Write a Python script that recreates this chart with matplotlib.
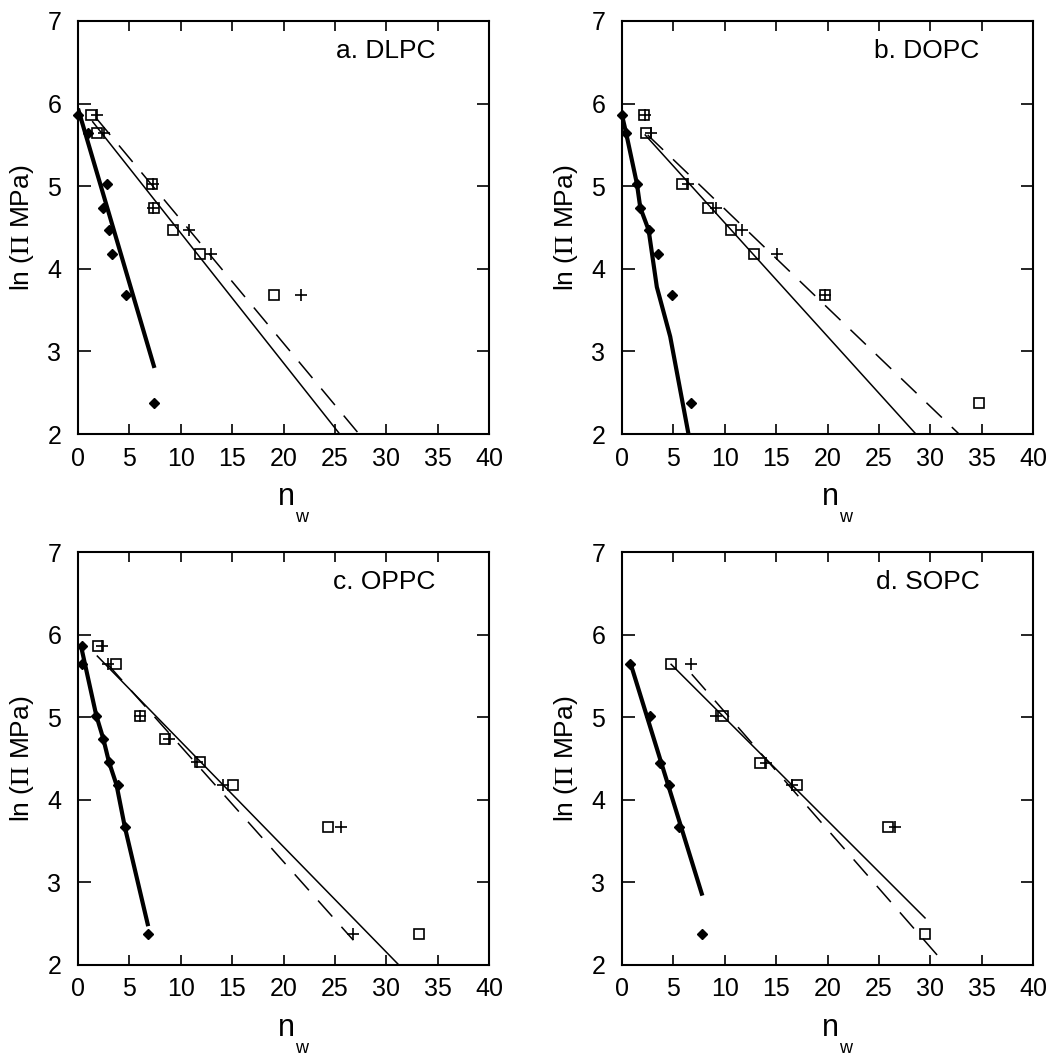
import matplotlib
matplotlib.use("Agg")
import matplotlib.pyplot as plt

plt.rcParams['font.family'] = ['Liberation Sans', 'DejaVu Sans']
plt.rcParams['mathtext.fontset'] = 'stix'

# ---------------- data ----------------
titles = ["a. DLPC", "b. DOPC", "c. OPPC", "d. SOPC"]

# filled diamonds
dia_x_a = [0.0, 0.97, 2.85, 2.46, 3.0, 3.27, 4.72, 7.38]
dia_y_a = [5.86, 5.65, 5.03, 4.74, 4.47, 4.18, 3.68, 2.38]
dia_x_b = [0.0, 0.39, 1.45, 1.78, 2.59, 3.49, 4.85, 6.72]
dia_y_b = [5.86, 5.65, 5.03, 4.74, 4.47, 4.18, 3.68, 2.38]
dia_x_c = [0.36, 0.36, 1.78, 2.46, 3.01, 3.88, 4.56, 6.83]
dia_y_c = [5.86, 5.64, 5.02, 4.74, 4.46, 4.18, 3.67, 2.37]
dia_x_d = [0.81, 2.75, 3.65, 4.59, 5.5, 7.82]
dia_y_d = [5.64, 5.02, 4.45, 4.18, 3.67, 2.37]

# open squares
sq_x_a = [1.29, 1.88, 7.2, 7.38, 9.26, 11.84, 19.03]
sq_y_a = [5.86, 5.65, 5.03, 4.74, 4.47, 4.18, 3.68]
sq_x_b = [2.17, 2.36, 5.88, 8.41, 10.6, 12.87, 19.79, 34.76]
sq_y_b = [5.86, 5.65, 5.03, 4.74, 4.47, 4.18, 3.68, 2.38]
sq_x_c = [1.97, 3.66, 6.02, 8.45, 11.91, 15.08, 24.37, 33.2]
sq_y_c = [5.86, 5.64, 5.02, 4.74, 4.46, 4.18, 3.67, 2.37]
sq_x_d = [4.78, 9.86, 13.45, 17.04, 25.86, 29.49]
sq_y_d = [5.64, 5.02, 4.45, 4.18, 3.67, 2.37]

# plus signs
pl_x_a = [1.88, 2.52, 7.3, 7.3, 10.78, 12.95, 21.7]
pl_y_a = [5.86, 5.65, 5.03, 4.74, 4.47, 4.18, 3.68]
pl_x_b = [2.26, 2.81, 6.47, 9.15, 11.7, 15.13, 19.79]
pl_y_b = [5.86, 5.65, 5.03, 4.74, 4.47, 4.18, 3.68]
pl_x_c = [2.36, 2.91, 6.08, 8.83, 11.59, 14.11, 25.57, 26.8]
pl_y_c = [5.86, 5.64, 5.02, 4.74, 4.46, 4.18, 3.67, 2.37]
pl_x_d = [6.72, 9.15, 14.0, 16.5, 26.58]
pl_y_d = [5.64, 5.02, 4.45, 4.18, 3.67]

# thick fitted curves (diamonds)
thick_x_a = [0.0, 7.44]
thick_y_a = [5.94, 2.80]
thick_x_b = [0.0, 0.39, 1.45, 1.78, 2.59, 3.39, 4.69, 6.47]
thick_y_b = [5.86, 5.65, 5.03, 4.74, 4.47, 3.78, 3.18, 2.0]
thick_x_c = [0.26, 1.78, 2.46, 3.01, 3.75, 4.56, 6.83]
thick_y_c = [5.88, 5.02, 4.74, 4.46, 4.18, 3.67, 2.47]
thick_x_d = [0.81, 7.82]
thick_y_d = [5.66, 2.84]

# thin solid fitted lines (squares)
solid_x_a = [1.43, 25.47]
solid_y_a = [5.78, 2.0]
solid_x_b = [2.26, 28.6]
solid_y_b = [5.62, 2.0]
solid_x_c = [1.88, 31.23]
solid_y_c = [5.74, 2.0]
solid_x_d = [4.78, 29.49]
solid_y_d = [5.64, 2.57]

# dashed fitted lines (plus signs)
dash_x_a = [1.8, 27.35]
dash_y_a = [5.82, 2.0]
dash_x_b = [2.5, 32.8]
dash_y_b = [5.62, 2.0]
dash_x_c = [2.9, 26.8]
dash_y_c = [5.64, 2.3]
dash_x_d = [6.79, 31.52]
dash_y_d = [5.52, 2.0]

x_ticks = [0, 5, 10, 15, 20, 25, 30, 35, 40]
y_ticks = [2, 3, 4, 5, 6, 7]

panels = [
    (dia_x_a, dia_y_a, sq_x_a, sq_y_a, pl_x_a, pl_y_a, thick_x_a, thick_y_a, solid_x_a, solid_y_a, dash_x_a, dash_y_a),
    (dia_x_b, dia_y_b, sq_x_b, sq_y_b, pl_x_b, pl_y_b, thick_x_b, thick_y_b, solid_x_b, solid_y_b, dash_x_b, dash_y_b),
    (dia_x_c, dia_y_c, sq_x_c, sq_y_c, pl_x_c, pl_y_c, thick_x_c, thick_y_c, solid_x_c, solid_y_c, dash_x_c, dash_y_c),
    (dia_x_d, dia_y_d, sq_x_d, sq_y_d, pl_x_d, pl_y_d, thick_x_d, thick_y_d, solid_x_d, solid_y_d, dash_x_d, dash_y_d),
]

# ---------------- figure ----------------
fig = plt.figure(figsize=(10.64, 10.56), dpi=100)
W, H = 1064.0, 1056.0
boxes = [(78, 21), (622, 21), (78, 552), (622, 552)]  # left, top in px
aw, ah = 411, 413

for i, (box, data) in enumerate(zip(boxes, panels)):
    l, t = box
    ax = fig.add_axes([l / W, 1 - (t + ah) / H, aw / W, ah / H])
    dx, dy, sx, sy, px, py, tx, ty, lx, ly, ddx, ddy = data

    ax.plot(tx, ty, color='black', lw=3.0, solid_capstyle='butt', zorder=2)
    ax.plot(lx, ly, color='black', lw=1.1, zorder=2)
    ln, = ax.plot(ddx, ddy, color='black', lw=1.1, zorder=2)
    ln.set_dashes((14, 9))

    ax.plot(dx, dy, linestyle='none', marker='D', ms=5, color='black', zorder=3, clip_on=False)
    ax.plot(sx, sy, linestyle='none', marker='s', ms=6.5, mfc='none', mec='black', mew=1.2, zorder=3, clip_on=False)
    ax.plot(px, py, linestyle='none', marker='+', ms=8, mec='black', mew=1.2, zorder=3, clip_on=False)

    ax.set_xlim(0, 40)
    ax.set_ylim(2, 7)
    ax.set_xticks(x_ticks)
    ax.set_yticks(y_ticks)
    ax.tick_params(axis='both', which='both', direction='in', top=True, right=True,
                   labelsize=18, width=1.2, color='black')
    ax.tick_params(axis='x', length=7, pad=9)
    ax.tick_params(axis='y', length=9, pad=12)
    for sp in ax.spines.values():
        sp.set_linewidth(1.5)

    ax.set_ylabel(r'ln ($\mathrm{\Pi}$ MPa)', fontsize=19, labelpad=8)
    ax.text(0.508, -0.172, 'n', transform=ax.transAxes, ha='center', va='baseline', fontsize=22)
    ax.text(0.543, -0.213, 'w', transform=ax.transAxes, ha='center', va='baseline', fontsize=13)
    ax.text(0.87, 0.91, titles[i], transform=ax.transAxes, ha='right', va='baseline', fontsize=19)

fig.savefig('out.png', dpi=100)
